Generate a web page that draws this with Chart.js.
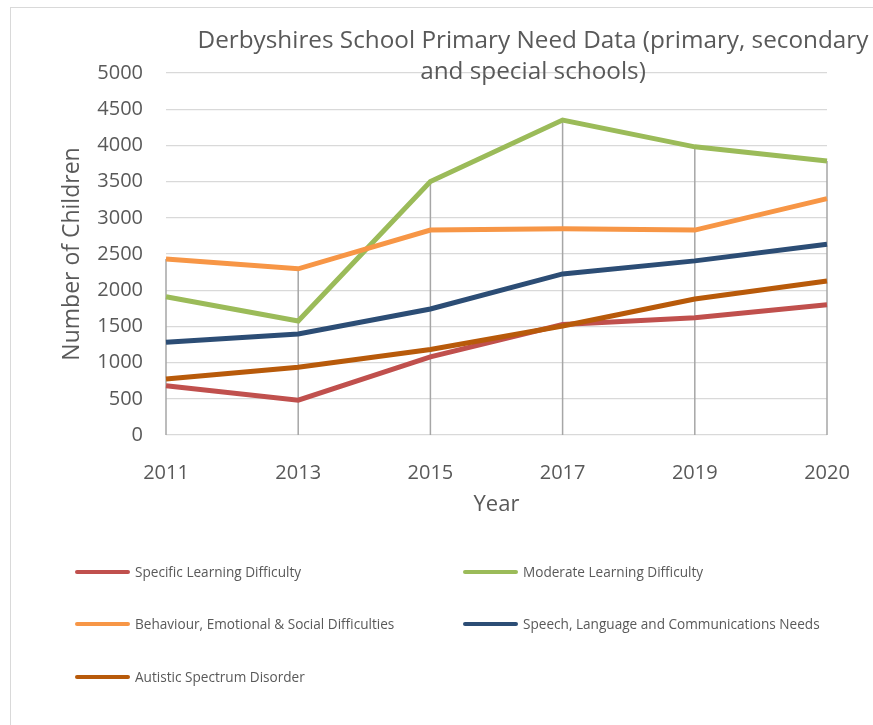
<!DOCTYPE html>
<html>
<head>
<meta charset="utf-8">
<script src="https://cdn.jsdelivr.net/npm/chart.js@4"></script>
<style>
  body { margin: 0; background: #fff; }
  #wrap { position: relative; width: 873px; height: 725px; overflow: hidden; }
  #frame { position: absolute; left: 10px; top: 7px; width: 900px; height: 760px; border: 1px solid #d9d9d9; box-sizing: border-box; }
  canvas { position: absolute; left: 0; top: 0; }
  .leg { position: absolute; font-family: "Open Sans", sans-serif; font-size: 13.6px; color: #595959; white-space: nowrap; line-height: 16px; }
  .leg i { display: inline-block; width: 55px; height: 4px; border-radius: 2px; vertical-align: middle; margin-right: 5px; position: relative; top: -1px; }
</style>
</head>
<body>
<div id="wrap">
  <div id="frame"></div>
  <canvas id="needChart" width="873" height="725"></canvas>
  <div id="legend"></div>
</div>
<script>
// chart data
const years = ['2011', '2013', '2015', '2017', '2019', '2020'];
const seriesNames = [
  'Specific Learning Difficulty',
  'Moderate Learning Difficulty',
  'Behaviour, Emotional & Social Difficulties',
  'Speech, Language and Communications Needs',
  'Autistic Spectrum Disorder'
];
const specificLD = [680, 480, 1080, 1525, 1620, 1800];
const moderateLD = [1910, 1575, 3500, 4350, 3980, 3785];
const behaviourESD = [2430, 2295, 2830, 2850, 2830, 3265];
const speechLCN = [1280, 1395, 1740, 2225, 2405, 2635];
const autisticSD = [775, 935, 1180, 1505, 1878, 2128];
const yTicks = [0, 500, 1000, 1500, 2000, 2500, 3000, 3500, 4000, 4500, 5000];

const lineColors = ['#c0504d', '#9bbb59', '#f79646', '#2c4d75', '#b85a0a'];
const allSeries = [specificLD, moderateLD, behaviourESD, speechLCN, autisticSD];
const font = '"Open Sans", sans-serif';
const textGray = '#595959';

// Excel style drop lines: from the highest point down to the axis
const dropLines = {
  id: 'dropLines',
  beforeDatasetsDraw(chart) {
    const ctx = chart.ctx;
    const x = chart.scales.x, y = chart.scales.y;
    ctx.save();
    ctx.strokeStyle = '#a6a6a6';
    ctx.lineWidth = 1.5;
    years.forEach((yr, i) => {
      const top = Math.max(...allSeries.map(s => s[i]));
      const px = x.getPixelForValue(i);
      ctx.beginPath();
      ctx.moveTo(px, y.getPixelForValue(top));
      ctx.lineTo(px, y.getPixelForValue(0));
      ctx.stroke();
    });
    ctx.restore();
  }
};

// two line title that sits over the top of the plot like in Excel
const titleLines = ['Derbyshires School Primary Need Data (primary, secondary', 'and special schools)'];
const overlayTitle = {
  id: 'overlayTitle',
  afterDraw(chart) {
    const ctx = chart.ctx;
    ctx.save();
    ctx.fillStyle = textGray;
    ctx.textAlign = 'center';
    ctx.textBaseline = 'middle';
    let size = 24;
    ctx.font = size + 'px ' + font;
    size = size * 671 / ctx.measureText(titleLines[0]).width;
    ctx.font = size.toFixed(2) + 'px ' + font;
    ctx.fillText(titleLines[0], 533, 41);
    ctx.fillText(titleLines[1], 533, 72);
    ctx.restore();
  }
};

const ctx = document.getElementById('needChart').getContext('2d');
new Chart(ctx, {
  type: 'line',
  data: {
    labels: years,
    datasets: seriesNames.map((name, i) => ({
      label: name,
      data: allSeries[i],
      borderColor: lineColors[i],
      backgroundColor: lineColors[i],
      borderWidth: 5,
      pointRadius: 0,
      tension: 0,
      order: 5 - i
    }))
  },
  options: {
    responsive: false,
    animation: false,
    layout: { padding: { left: 0, top: 73, right: 46, bottom: 180 } },
    plugins: { legend: { display: false }, tooltip: { enabled: false } },
    scales: {
      x: {
        grid: { display: false },
        border: { display: false },
        ticks: { color: textGray, font: { family: font, size: 20 }, padding: 18, maxRotation: 0, autoSkip: false },
        title: { display: true, text: 'Year', color: textGray, font: { family: font, size: 22 }, padding: { bottom: 27 } },
        afterFit(scale) { scale.height = 110; }
      },
      y: {
        min: 0,
        max: 5000,
        afterBuildTicks(scale) { scale.ticks = yTicks.map(v => ({ value: v })); },
        grid: { color: '#d9d9d9', lineWidth: 1.3, drawTicks: false },
        border: { display: false },
        ticks: { color: textGray, font: { family: font, size: 20 }, padding: 23, callback: v => String(v) },
        title: { display: true, text: 'Number of Children', color: textGray, font: { family: font, size: 23 }, padding: { top: 59 } },
        afterFit(scale) { scale.width = 166; }
      }
    }
  },
  plugins: [dropLines, overlayTitle]
});

// legend in two columns, as in the reference
const legendPos = [[75, 572], [463, 572], [75, 624], [463, 624], [75, 677]];
const legend = document.getElementById('legend');
seriesNames.forEach((name, i) => {
  const d = document.createElement('div');
  d.className = 'leg';
  d.style.left = legendPos[i][0] + 'px';
  d.style.top = (legendPos[i][1] - 8) + 'px';
  d.innerHTML = '<i style="background:' + lineColors[i] + '"></i>';
  d.appendChild(document.createTextNode(name));
  legend.appendChild(d);
});
</script>
</body>
</html>
